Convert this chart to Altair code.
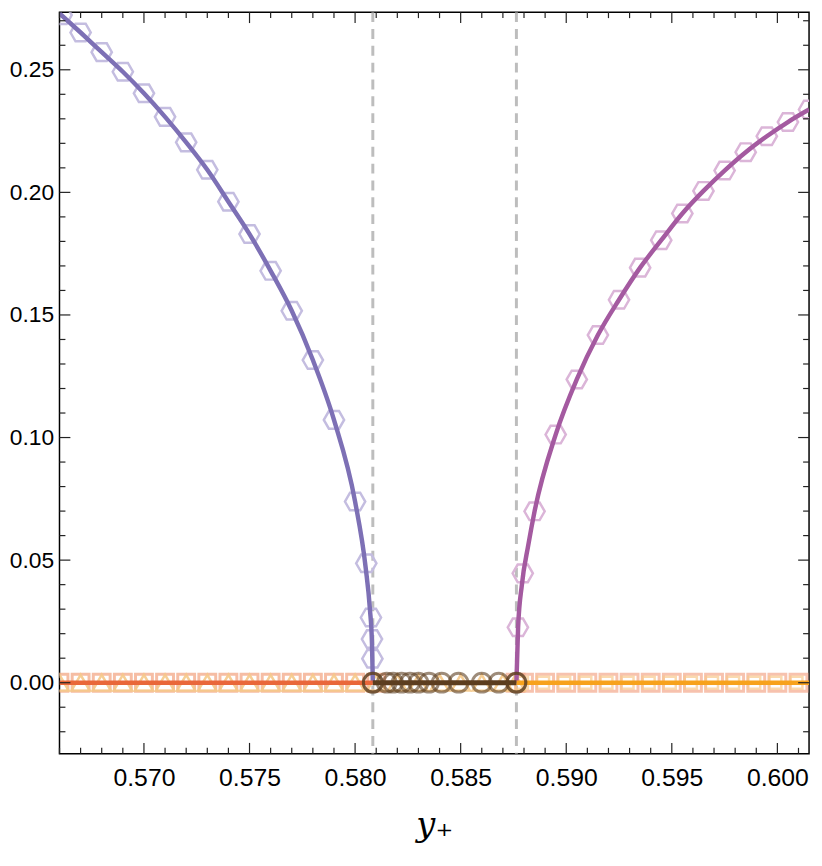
import altair as alt
import pandas as pd

# ---------------- data ----------------
# left branch (violet)
lineL_x = [0.566, 0.567, 0.568, 0.569, 0.570, 0.571, 0.572, 0.573, 0.574, 0.575,
           0.576, 0.577, 0.578, 0.579, 0.580, 0.5805, 0.5807, 0.5808, 0.58084]
lineL_y = [0.2730, 0.2652, 0.2572, 0.2492, 0.2404, 0.2308, 0.2204, 0.2092, 0.1962, 0.1830,
           0.1680, 0.1517, 0.1316, 0.1072, 0.0739, 0.0470, 0.0302, 0.0161, 0.0]
hexL_x = [0.5661, 0.5670, 0.5680, 0.5690, 0.5700, 0.5710, 0.5720, 0.5730, 0.5740, 0.5750,
          0.5760, 0.5770, 0.5780, 0.5790, 0.5800, 0.58053, 0.58075, 0.5808, 0.58082]
hexL_y = [0.2723, 0.2652, 0.2572, 0.2492, 0.2404, 0.2308, 0.2204, 0.2092, 0.1962, 0.1830,
          0.1680, 0.1517, 0.1316, 0.1072, 0.0739, 0.0487, 0.0266, 0.0178, 0.0098]

# right branch (magenta)
lineR_x = [0.58764, 0.58772, 0.5879, 0.5882, 0.5885, 0.5895, 0.5905, 0.5915, 0.5925, 0.5935,
           0.5945, 0.5955, 0.5965, 0.5975, 0.5985, 0.5995, 0.6005, 0.6015]
lineR_y = [0.0, 0.0225, 0.0400, 0.0560, 0.0699, 0.1012, 0.1237, 0.1418, 0.1562, 0.1693,
           0.1805, 0.1914, 0.2006, 0.2089, 0.2164, 0.2229, 0.2287, 0.2338]
hexR_x = [0.58771, 0.58794, 0.5885, 0.5895, 0.5905, 0.5915, 0.5925, 0.5935, 0.5945, 0.5955,
          0.5965, 0.5975, 0.5985, 0.5995, 0.6005, 0.6015]
hexR_y = [0.0226, 0.0446, 0.0699, 0.1012, 0.1237, 0.1418, 0.1562, 0.1693, 0.1805, 0.1914,
          0.2006, 0.2089, 0.2164, 0.2229, 0.2287, 0.2338]

# zero branches
zeroL_x = [0.566, 0.58084]
zeroM_x = [0.58084, 0.58764]
zeroR_x = [0.58764, 0.6015]
sqL_x = [0.566, 0.567, 0.568, 0.569, 0.570, 0.571, 0.572, 0.573, 0.574, 0.575,
         0.576, 0.577, 0.578, 0.579, 0.580, 0.581]
tri_x = [0.566, 0.567, 0.568, 0.569, 0.570, 0.571, 0.572, 0.573, 0.574, 0.575,
         0.576, 0.577, 0.578, 0.579, 0.580, 0.581, 0.582, 0.583, 0.584, 0.585,
         0.586, 0.587, 0.5876]
circ_x = [0.58084, 0.58084, 0.5815, 0.5818, 0.5822, 0.5826, 0.5830, 0.5835, 0.5841,
          0.5849, 0.5860, 0.5868, 0.58764, 0.58764]
sqR_x = [0.5876, 0.588, 0.589, 0.590, 0.591, 0.592, 0.593, 0.594, 0.595, 0.596,
         0.597, 0.598, 0.599, 0.600, 0.601, 0.602]
sqR2_x = [0.5879, 0.5889, 0.5899, 0.5909, 0.5919, 0.5929, 0.5939, 0.5949, 0.5959,
          0.5969, 0.5979, 0.5989, 0.5999, 0.6009]

# critical points (dashed)
crit_x = [0.58084, 0.58764]

# ticks
x_major = [0.570, 0.575, 0.580, 0.585, 0.590, 0.595, 0.600]
x_minor = [0.566, 0.567, 0.568, 0.569, 0.571, 0.572, 0.573, 0.574, 0.576, 0.577,
           0.578, 0.579, 0.581, 0.582, 0.583, 0.584, 0.586, 0.587, 0.588, 0.589,
           0.591, 0.592, 0.593, 0.594, 0.596, 0.597, 0.598, 0.599, 0.601]
y_major = [0.00, 0.05, 0.10, 0.15, 0.20, 0.25]
y_minor = [-0.02, -0.01, 0.01, 0.02, 0.03, 0.04, 0.06, 0.07, 0.08, 0.09, 0.11, 0.12,
           0.13, 0.14, 0.16, 0.17, 0.18, 0.19, 0.21, 0.22, 0.23, 0.24, 0.26, 0.27]

X_DOMAIN = [0.566, 0.6015]
Y_DOMAIN = [-0.029, 0.2735]

W, H = 757, 749

# ---------------- encodings ----------------
xs = alt.Scale(domain=X_DOMAIN, nice=False, zero=False)
ys = alt.Scale(domain=Y_DOMAIN, nice=False, zero=False)
x_axis = alt.Axis(values=x_major, format=".3f", ticks=False, tickSize=0, domain=False,
                  grid=False, labelFont="Liberation Sans", labelFontSize=25,
                  labelColor="black", labelPadding=12, title="y\u208a",
                  titleFont="DejaVu Serif", titleFontStyle="italic",
                  titleFontWeight="normal", titleFontSize=34, titleColor="black",
                  titlePadding=18, labelFlush=False)
y_axis = alt.Axis(values=y_major, format=".2f", ticks=False, tickSize=0, domain=False,
                  grid=False, labelFont="Liberation Sans", labelFontSize=23,
                  labelColor="black", labelPadding=6, title="")


def X(field="x"):
    return alt.X(f"{field}:Q", scale=xs, axis=x_axis)


def Y(field="y"):
    return alt.Y(f"{field}:Q", scale=ys, axis=y_axis)


def df(xv, yv=None):
    if yv is None:
        yv = [0.0] * len(xv)
    return pd.DataFrame({"x": xv, "y": yv})


hex_path = "M-1,0L-0.5,-0.866L0.5,-0.866L1,0L0.5,0.866L-0.5,0.866Z"

layers = []

# dashed critical lines
layers.append(alt.Chart(pd.DataFrame({"x": crit_x})).mark_rule(
    color="#bdbdbd", strokeWidth=3, strokeDash=[10, 7], clip=True).encode(x=X()))

# hexagon markers
layers.append(alt.Chart(df(hexL_x, hexL_y)).mark_point(
    shape=hex_path, size=420, filled=False, stroke="#c4bde0", strokeWidth=2.5,
    opacity=1, clip=True).encode(x=X(), y=Y()))
layers.append(alt.Chart(df(hexR_x, hexR_y)).mark_point(
    shape=hex_path, size=420, filled=False, stroke="#dbb5d8", strokeWidth=2.5,
    opacity=1, clip=True).encode(x=X(), y=Y()))

# zero-branch markers (behind the lines)
layers.append(alt.Chart(df(sqL_x)).mark_point(
    shape="square", size=290, filled=False, stroke="#f3a27e", strokeWidth=3,
    opacity=0.7, clip=True).encode(x=X(), y=Y()))
layers.append(alt.Chart(df(sqR_x)).mark_point(
    shape="square", size=290, filled=False, stroke="#f5a98c", strokeWidth=3,
    opacity=0.7, clip=True).encode(x=X(), y=Y()))
layers.append(alt.Chart(df(sqR2_x)).mark_point(
    shape="square", size=150, filled=False, stroke="#f9c98e", strokeWidth=2.5,
    opacity=0.7, clip=True).encode(x=X(), y=Y()))
layers.append(alt.Chart(df(tri_x)).mark_point(
    shape="triangle-up", size=340, filled=False, stroke="#f6c98a", strokeWidth=2.5,
    opacity=0.9, clip=True).encode(x=X(), y=Y()))

# curves
layers.append(alt.Chart(df(lineL_x, lineL_y)).mark_line(
    color="#7d70b5", strokeWidth=4.5, interpolate="monotone", clip=True).encode(
    x=X(), y=Y()))
layers.append(alt.Chart(df(lineR_x, lineR_y)).mark_line(
    color="#a45aa0", strokeWidth=4.5, interpolate="monotone", clip=True).encode(
    x=X(), y=Y()))
layers.append(alt.Chart(df(zeroL_x)).mark_line(
    color="#e9673a", strokeWidth=4.5, clip=True).encode(x=X(), y=Y()))
layers.append(alt.Chart(df(zeroR_x)).mark_line(
    color="#f7a21c", strokeWidth=4.5, clip=True).encode(x=X(), y=Y()))
layers.append(alt.Chart(df(zeroM_x)).mark_line(
    color="#5c3d1f", strokeWidth=5, clip=True).encode(x=X(), y=Y()))

# circles
layers.append(alt.Chart(df(circ_x)).mark_point(
    shape="circle", size=360, filled=False, stroke="#5e4022", strokeWidth=3,
    opacity=0.6, clip=True).encode(x=X(), y=Y()))

# inward ticks on all four sides
TK = "#222222"
ym = pd.DataFrame({"y": y_major})
yn = pd.DataFrame({"y": y_minor})
xm = pd.DataFrame({"x": x_major})
xn = pd.DataFrame({"x": x_minor})
for d, L in ((ym, 11), (yn, 6)):
    layers.append(alt.Chart(d).mark_rule(color=TK, strokeWidth=1.2).encode(
        y=Y(), x=alt.value(0), x2=alt.value(L)))
    layers.append(alt.Chart(d).mark_rule(color=TK, strokeWidth=1.2).encode(
        y=Y(), x=alt.value(W), x2=alt.value(W - L)))
for d, L in ((xm, 11), (xn, 6)):
    layers.append(alt.Chart(d).mark_rule(color=TK, strokeWidth=1.2).encode(
        x=X(), y=alt.value(H), y2=alt.value(H - L)))
    layers.append(alt.Chart(d).mark_rule(color=TK, strokeWidth=1.2).encode(
        x=X(), y=alt.value(0), y2=alt.value(L)))

chart = alt.layer(*layers).properties(
    width=W, height=H,
    autosize=alt.AutoSizeParams(type="none"),
    padding={"left": 52, "top": 0, "right": 5, "bottom": 100},
).configure_view(stroke="black", strokeWidth=1.5)

chart.save("out.html", embed_options={"renderer": "svg", "actions": False})
